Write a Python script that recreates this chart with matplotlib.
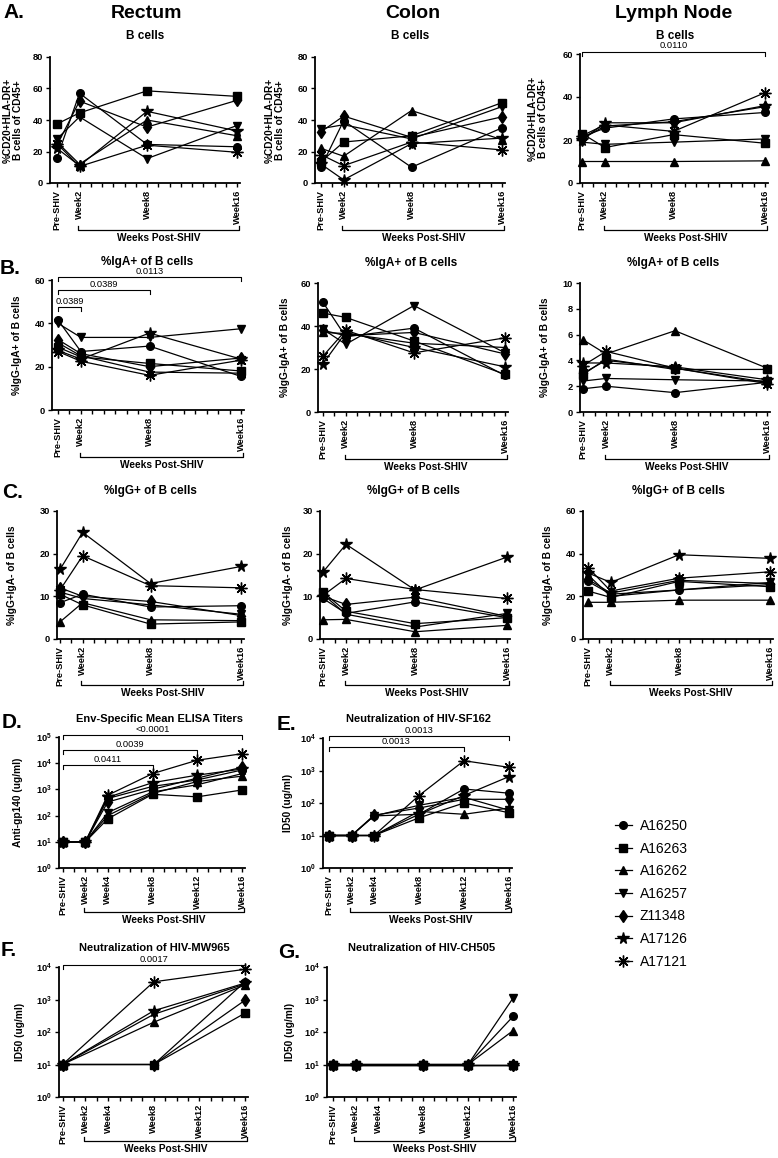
import matplotlib
matplotlib.use("Agg")
import matplotlib.pyplot as plt
from matplotlib.lines import Line2D
from matplotlib.ticker import FixedLocator, NullLocator, FuncFormatter
import numpy as np

plt.rcParams['font.family'] = ['Liberation Sans', 'DejaVu Sans']
plt.rcParams['mathtext.fontset'] = 'custom'
plt.rcParams['mathtext.rm'] = 'Liberation Sans'
plt.rcParams['mathtext.bf'] = 'Liberation Sans:bold'

W, H = 778, 1158

# ---- data -------------------------------------------------------------
animals = ['A16250', 'A16263', 'A16262', 'A16257', 'Z11348', 'A17126', 'A17121']

wk_abc = [0, 2, 8, 16]
wk_de = [0, 2, 4, 8, 12, 16]
wk_f = [0, 8, 16]
wk_g = [0, 2, 8, 12, 16]

labels_abc = ['Pre-SHIV', 'Week2', 'Week8', 'Week16']
labels_dg = ['Pre-SHIV', 'Week2', 'Week4', 'Week8', 'Week12', 'Week16']

# B cells (%CD20+HLA-DR+ of CD45+)
rectum_b = [[16, 57, 24.5, 23], [37.5, 44.5, 58.5, 55], [26, 12, 40, 30], [28, 42, 15.5, 36.5],
            [24, 52, 35.5, 52.5], [22, 11, 45.5, 33], [25, 10.5, 24, 19.5]]
colon_b = [[10, 39.5, 10, 35], [13.5, 26, 30, 51], [22, 17, 46, 27.5], [34.5, 37, 28, 48.5],
           [32.5, 42.5, 29, 42], [12, 2, 25, 28.5], [18, 11, 26, 21]]
lymph_b = [[21.5, 25.5, 29.8, 32.8], [23, 16.5, 22.5, 18.5], [10, 10, 10, 10.3], [19, 18, 19, 20.5],
           [20.5, 26.5, 28.5, 35.5], [20, 28, 28, 36], [22, 27, 24, 42]]

# %IgA+ of B cells
rectum_iga = [[41.5, 27, 29.5, 15.5], [29, 24.5, 21.5, 18], [31, 25, 17.5, 17], [40, 33.5, 33.5, 37.5],
              [32.5, 26, 20, 24], [27.5, 23.5, 35.5, 23.5], [27, 22.5, 16, 23]]
colon_iga = [[51, 35, 39, 17], [46, 44, 33, 17.5], [37, 36.5, 32, 30], [38.5, 31.5, 49.5, 27.5],
             [38, 35.5, 37, 27], [22.5, 37, 30, 21], [26, 38, 27.5, 34.5]]
lymph_iga = [[1.8, 2.0, 1.5, 2.3], [2.9, 4.1, 3.3, 3.3], [5.6, 4.5, 6.3, 3.4], [2.4, 2.6, 2.5, 2.4],
             [3.0, 4.0, 3.4, 2.3], [3.8, 3.8, 3.5, 2.5], [3.6, 4.7, 3.4, 2.2]]

# %IgG+ of B cells
rectum_igg = [[8.5, 10.5, 7.5, 7.8], [10.5, 8, 3.5, 4], [4, 8.5, 4.5, 4.3], [11, 9.5, 8, 5.8],
              [12, 10, 8.8, 5.5], [16.3, 25, 13, 17], [11.5, 19.5, 12.5, 12]]
colon_igg = [[9.5, 6, 8.7, 5], [11, 6.5, 3.6, 5], [4.5, 4.6, 1.7, 3.2], [10.5, 5.8, 2.8, 6],
             [10, 8.1, 9.8, 5.3], [15.7, 22.2, 11.5, 19.2], [10.2, 14.2, 11.6, 9.5]]
lymph_igg = [[27, 21, 23, 25.5], [22.5, 19.5, 27, 24.5], [17.2, 17.2, 18.2, 18.2], [30, 20, 23, 26.5],
             [28, 21.5, 27.5, 26], [31, 26.5, 39.5, 37.8], [33.5, 22.5, 28.5, 31.5]]

# ELISA / neutralization titers
elisa = [[10, 10, 450, 1300, 2300, 5500], [10, 10, 75, 650, 520, 950], [10, 10, 100, 700, 2000, 3200],
         [10, 10, 130, 800, 1500, 4000], [10, 10, 330, 1000, 2700, 7000], [10, 10, 500, 1800, 3500, 6000],
         [10, 10, 600, 4000, 13000, 23000]]
sf162 = [[10, 10, 40, 45, 270, 200], [10, 10, 10, 35, 100, 50], [10, 10, 10, 55, 45, 70],
         [10, 10, 40, 85, 150, 60], [10, 10, 42, 70, 130, 130], [10, 10, 10, 45, 170, 650],
         [10, 10, 10, 170, 2000, 1250]]
mw965 = [[10, 10, 3500], [10, 10, 380], [10, 200, 2800], [10, 350, 3000], [10, 10, 950],
         [10, 450, 3200], [10, 3500, 8500]]
ch505 = [[10, 10, 10, 10, 300], [10, 10, 10, 10, 10], [10, 10, 10, 10, 110], [10, 10, 10, 10, 1100],
         [10, 10, 10, 10, 10], [10, 10, 10, 10, 10], [10, 10, 10, 10, 10]]

# ---- style ------------------------------------------------------------
asterisk = (8, 2, 0)
markers = ['o', 's', '^', 'v', 'd', '*', asterisk]
msizes = [5.5, 5.5, 6, 6, 6, 8.5, 8.5]

fig = plt.figure(figsize=(W / 100, H / 100), dpi=100)


def ftext(x, y, s, **kw):
    fig.text(x / W, 1 - y / H, s, **kw)


def make_ax(spine, pre, w16, top, bottom):
    s = (w16 - pre) / 16.0
    x0 = -(pre - spine) / s
    x1 = 16.3
    right = spine + (x1 - x0) * s
    ax = fig.add_axes([spine / W, 1 - bottom / H, (right - spine) / W, (bottom - top) / H])
    ax.set_xlim(x0, x1)
    ax.hpx = bottom - top
    ax.spx = (spine, right, top, bottom)
    return ax


def style(ax, ticks, labels, ylab, lab_x, log=False):
    for sp in ['top', 'right']:
        ax.spines[sp].set_visible(False)
    for sp in ['left', 'bottom']:
        ax.spines[sp].set_linewidth(1.3)
    ax.set_xticks(ticks)
    ax.set_xticklabels(labels, rotation=90, fontsize=6.7, fontweight='bold')
    ax.xaxis.set_minor_locator(FixedLocator(range(0, 17)))
    ax.tick_params(which='both', direction='out', length=3, width=1.0, pad=2)
    ax.tick_params(axis='y', labelsize=6.7)
    for t in ax.get_yticklabels():
        t.set_fontweight('bold')
    if log:
        ax.yaxis.set_minor_locator(NullLocator())
    ax.set_ylabel(ylab, fontsize=7.3, fontweight='bold', linespacing=1.0)
    spine, right, top, bottom = ax.spx
    ax.yaxis.set_label_coords((lab_x - spine) / (right - spine), 0.5)


def draw(ax, x, series):
    for vals, m, ms in zip(series, markers, msizes):
        ax.plot(x, vals, color='black', lw=0.9, marker=m, ms=ms, mfc='black', mec='black',
                mew=1.0, clip_on=False, zorder=3)


def weeks_bracket(ax, off_px, x0=1.9, x1=16.2):
    tr = ax.get_xaxis_transform()
    y = -off_px / ax.hpx
    d = 4 / ax.hpx
    ax.plot([x0, x0, x1, x1], [y + d, y, y, y + d], color='black', lw=0.9, transform=tr, clip_on=False)
    ax.text((x0 + x1) / 2, y - 3 / ax.hpx, 'Weeks Post-SHIV', transform=tr, ha='center', va='top',
            fontsize=7.3, fontweight='bold')


def pbracket(ax, x0, x1, y_px, lab):
    tr = ax.get_xaxis_transform()
    y = 1 + y_px / ax.hpx
    d = 4 / ax.hpx
    ax.plot([x0, x0, x1, x1], [y - d, y, y, y - d], color='black', lw=0.8, transform=tr, clip_on=False)
    ax.text((x0 + x1) / 2, y + 1 / ax.hpx, lab, transform=tr, ha='center', va='bottom', fontsize=6.7)


def log_fmt(v, pos):
    return r'$\mathbf{10^{%d}}$' % int(round(np.log10(v)))


# ---- row A: B cells ---------------------------------------------------
ylab_a = '%CD20+HLA-DR+\nB cells of CD45+'
ax = make_ax(50, 57, 237, 57, 183)
draw(ax, wk_abc, rectum_b)
ax.set_ylim(0, 80); ax.set_yticks([0, 20, 40, 60, 80])
style(ax, wk_abc, labels_abc, ylab_a, 23)
weeks_bracket(ax, 47)

ax = make_ax(315, 321, 502, 57, 183)
draw(ax, wk_abc, colon_b)
ax.set_ylim(0, 80); ax.set_yticks([0, 20, 40, 60, 80])
style(ax, wk_abc, labels_abc, ylab_a, 285)
weeks_bracket(ax, 47)

ax = make_ax(580, 582, 765, 54, 183)
draw(ax, wk_abc, lymph_b)
ax.set_ylim(0, 60); ax.set_yticks([0, 20, 40, 60])
style(ax, wk_abc, labels_abc, ylab_a, 548)
weeks_bracket(ax, 47)
pbracket(ax, 0, 16, 2.5, '0.0110')

# ---- row B: IgA -------------------------------------------------------
ylab_b = '%IgG-IgA+ of B cells'
ax = make_ax(52, 58, 241, 280, 410)
draw(ax, wk_abc, rectum_iga)
ax.set_ylim(0, 60); ax.set_yticks([0, 20, 40, 60])
style(ax, wk_abc, labels_abc, ylab_b, 22)
weeks_bracket(ax, 47)
pbracket(ax, 0, 16, 2.7, '0.0113')
pbracket(ax, 0, 8, -10, '0.0389')
pbracket(ax, 0, 2, -26.7, '0.0389')

ax = make_ax(318, 323, 505, 283, 412)
draw(ax, wk_abc, colon_iga)
ax.set_ylim(0, 60); ax.set_yticks([0, 20, 40, 60])
style(ax, wk_abc, labels_abc, ylab_b, 290)
weeks_bracket(ax, 47)

ax = make_ax(580, 583, 767, 283, 412)
draw(ax, wk_abc, lymph_iga)
ax.set_ylim(0, 10); ax.set_yticks([0, 2, 4, 6, 8, 10])
style(ax, wk_abc, labels_abc, ylab_b, 550)
weeks_bracket(ax, 47)

# ---- row C: IgG -------------------------------------------------------
ylab_c = '%IgG+IgA- of B cells'
ax = make_ax(57, 60, 241, 511, 639)
draw(ax, wk_abc, rectum_igg)
ax.set_ylim(0, 30); ax.set_yticks([0, 10, 20, 30])
style(ax, wk_abc, labels_abc, ylab_c, 17)
weeks_bracket(ax, 46)

ax = make_ax(320, 323, 507, 511, 639)
draw(ax, wk_abc, colon_igg)
ax.set_ylim(0, 30); ax.set_yticks([0, 10, 20, 30])
style(ax, wk_abc, labels_abc, ylab_c, 293)
weeks_bracket(ax, 46)

ax = make_ax(583, 588, 770, 511, 639)
draw(ax, wk_abc, lymph_igg)
ax.set_ylim(0, 60); ax.set_yticks([0, 20, 40, 60])
style(ax, wk_abc, labels_abc, ylab_c, 553)
weeks_bracket(ax, 46)

# ---- row D/E ----------------------------------------------------------
ax = make_ax(59, 63, 242, 737, 868)
ax.set_yscale('log')
draw(ax, wk_de, elisa)
ax.set_ylim(1, 1e5)
ax.yaxis.set_major_locator(FixedLocator([1, 10, 100, 1e3, 1e4, 1e5]))
ax.yaxis.set_major_formatter(FuncFormatter(log_fmt))
style(ax, wk_de, labels_dg, 'Anti-gp140 (ug/ml)', 23, log=True)
weeks_bracket(ax, 44)
pbracket(ax, 0, 16, 2, '<0.0001')
pbracket(ax, 0, 12, -13, '0.0039')
pbracket(ax, 0, 8, -28, '0.0411')

ax = make_ax(323, 329, 509, 738, 868)
ax.set_yscale('log')
draw(ax, wk_de, sf162)
ax.set_ylim(1, 1e4)
ax.yaxis.set_major_locator(FixedLocator([1, 10, 100, 1e3, 1e4]))
ax.yaxis.set_major_formatter(FuncFormatter(log_fmt))
style(ax, wk_de, labels_dg, 'ID50 (ug/ml)', 293, log=True)
weeks_bracket(ax, 44)
pbracket(ax, 0, 16, 2.3, '0.0013')
pbracket(ax, 0, 12, -8.7, '0.0013')

# ---- row F/G ----------------------------------------------------------
ax = make_ax(59, 62.5, 245, 967, 1097)
ax.set_yscale('log')
draw(ax, wk_f, mw965)
ax.set_ylim(1, 1e4)
ax.yaxis.set_major_locator(FixedLocator([1, 10, 100, 1e3, 1e4]))
ax.yaxis.set_major_formatter(FuncFormatter(log_fmt))
style(ax, wk_de, labels_dg, 'ID50 (ug/ml)', 25, log=True)
weeks_bracket(ax, 44)
pbracket(ax, 0, 16, 2, '0.0017')

ax = make_ax(327, 333, 513, 967, 1097)
ax.set_yscale('log')
draw(ax, wk_g, ch505)
ax.set_ylim(1, 1e4)
ax.yaxis.set_major_locator(FixedLocator([1, 10, 100, 1e3, 1e4]))
ax.yaxis.set_major_formatter(FuncFormatter(log_fmt))
style(ax, wk_de, labels_dg, 'ID50 (ug/ml)', 295, log=True)
weeks_bracket(ax, 44)

# ---- titles and headers -----------------------------------------------
for x, s in [(147, 'Rectum'), (413, 'Colon'), (674, 'Lymph Node')]:
    ftext(x, 13, s, ha='center', va='center', fontsize=14, fontweight='bold')
for x in [145, 410, 675]:
    ftext(x, 36, 'B cells', ha='center', va='center', fontsize=8.5, fontweight='bold')
for x, y in [(147, 262), (411, 263), (673, 263)]:
    ftext(x, y, '%IgA+ of B cells', ha='center', va='center', fontsize=8.5, fontweight='bold')
for x in [150, 413, 678]:
    ftext(x, 491, '%IgG+ of B cells', ha='center', va='center', fontsize=8.5, fontweight='bold')
ftext(160, 719, 'Env-Specific Mean ELISA Titers', ha='center', va='center', fontsize=8, fontweight='bold')
ftext(418, 719, 'Neutralization of HIV-SF162', ha='center', va='center', fontsize=8, fontweight='bold')
ftext(154, 948, 'Neutralization of HIV-MW965', ha='center', va='center', fontsize=8, fontweight='bold')
ftext(422, 948, 'Neutralization of HIV-CH505', ha='center', va='center', fontsize=8, fontweight='bold')

for x, y, s in [(3, 13, 'A.'), (0, 269, 'B.'), (2, 492, 'C.'), (2, 723, 'D.'), (277, 725, 'E.'),
                (1, 951, 'F.'), (278, 953, 'G.')]:
    ftext(x, y, s, ha='left', va='center', fontsize=15, fontweight='bold')

# ---- legend -----------------------------------------------------------
handles = [Line2D([], [], color='black', lw=0.9, marker=m, ms=ms, mfc='black', mec='black', mew=1.0)
           for m, ms in zip(markers, msizes)]
fig.legend(handles, animals, loc='upper left', bbox_to_anchor=(615 / W, 1 - 819 / H),
           frameon=False, fontsize=10, handlelength=1.2, handletextpad=0.6,
           labelspacing=0.62, borderpad=0, borderaxespad=0)

fig.savefig('out.png', dpi=100)
